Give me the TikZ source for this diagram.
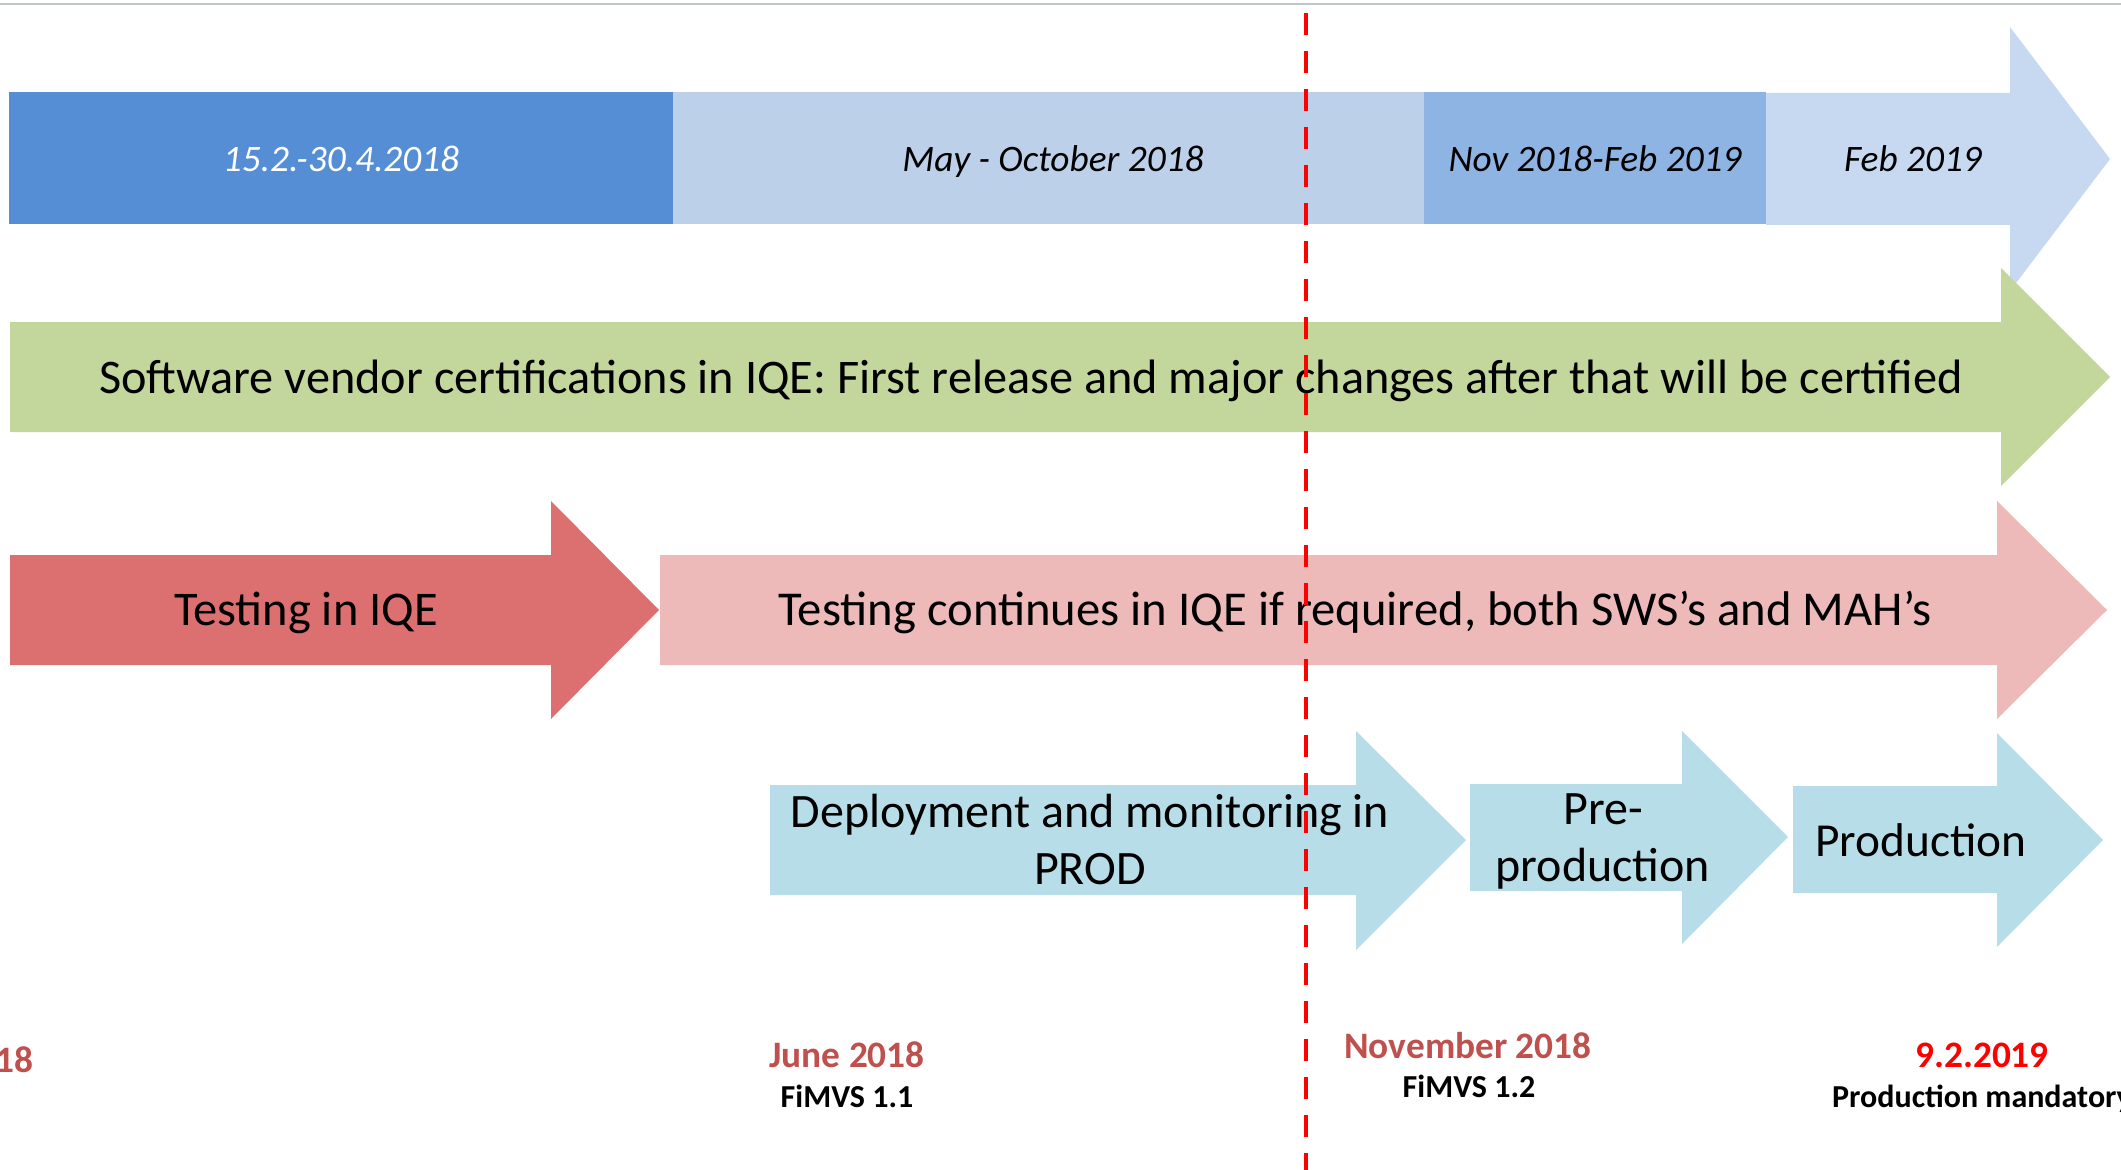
\documentclass[tikz,border=0pt]{standalone}
\usepackage{fontspec}
\setmainfont{Carlito}
\definecolor{barA}{HTML}{558ED5}
\definecolor{barB}{HTML}{BDD0E9}
\definecolor{barC}{HTML}{8EB4E3}
\definecolor{barD}{HTML}{C6D9F1}
\definecolor{greenA}{HTML}{C3D69B}
\definecolor{redA}{HTML}{DC7070}
\definecolor{pinkA}{HTML}{EDB9B9}
\definecolor{cyanA}{HTML}{B7DEE8}
\definecolor{dateRed}{HTML}{C0504D}
\definecolor{grayline}{HTML}{C0C4CC}
\tikzset{
  datetxt/.style={anchor=base, inner sep=0pt, font=\fontsize{28}{34}\selectfont\itshape},
  bigtxt/.style={anchor=base, inner sep=0pt, font=\fontsize{36.3}{43}\selectfont},
  bigtwo/.style={anchor=base, inner sep=0pt, align=center, font=\fontsize{36}{42.5}\selectfont},
  milestone/.style={anchor=base, inner sep=0pt, font=\fontsize{28}{34}\selectfont\bfseries, text=dateRed},
  version/.style={anchor=base, inner sep=0pt, font=\fontsize{24}{29}\selectfont\bfseries},
}
\begin{document}
\begin{tikzpicture}[x=0.75pt,y=-0.75pt]
\clip (0,0) rectangle (2121,1170);
\useasboundingbox (0,0) rectangle (2121,1170);
\fill[white] (0,0) rectangle (2121,1170);
% top gray rule
\coordinate (gl) at (0,4);
\coordinate (gr) at (2121,4);
\draw[grayline, line width=1.2pt] (gl) -- (gr);
% top timeline
\fill[barD] (1766,93) -- (2010,93) -- (2010,27) -- (2110,159) -- (2010,291) -- (2010,225) -- (1766,225) -- cycle;
\fill[barA] (9,92) rectangle (673,224);
\fill[barB] (673,92) rectangle (1424,224);
\fill[barC] (1424,92) rectangle (1766,224);
\node[datetxt, text=white] (p1) at (341,172) {15.2.-30.4.2018};
\node[datetxt] (p2) at (1053,172) {May - October 2018};
\node[datetxt] (p3) at (1595,172) {Nov 2018-Feb 2019};
\node[datetxt] (p4) at (1913,172) {Feb 2019};
% green arrow
\fill[greenA] (10,322) -- (2001,322) -- (2001,268) -- (2110,377) -- (2001,486) -- (2001,432) -- (10,432) -- cycle;
\node[anchor=base, inner sep=0pt, font=\fontsize{36.2}{43}\selectfont] (cert) at (1031,393) {Software vendor certifications in IQE: First release and major changes after that will be certified};
% testing arrows
\fill[redA] (10,555) -- (551,555) -- (551,501) -- (659,610) -- (551,719) -- (551,665) -- (10,665) -- cycle;
\fill[pinkA] (660,555) -- (1997,555) -- (1997,501) -- (2107,610) -- (1997,719) -- (1997,665) -- (660,665) -- cycle;
\node[bigtxt] (test) at (306,625) {Testing in IQE};
\node[bigtxt, font=\fontsize{36.5}{43}\selectfont] (cont) at (1355,625) {Testing continues in IQE if required, both SWS’s and MAH’s};
% deployment arrows
\fill[cyanA] (770,785) -- (1356,785) -- (1356,731) -- (1466,840) -- (1356,950) -- (1356,895) -- (770,895) -- cycle;
\fill[cyanA] (1470,784) -- (1682,784) -- (1682,731) -- (1788,837) -- (1682,944) -- (1682,891) -- (1470,891) -- cycle;
\fill[cyanA] (1793,786) -- (1997,786) -- (1997,733) -- (2103,840) -- (1997,947) -- (1997,893) -- (1793,893) -- cycle;
\node[bigtwo] (dep) at (1090,884) {Deployment and monitoring in\\PROD};
\node[bigtwo] (pre) at (1603,881) {Pre-\\production};
\node[bigtxt, font=\fontsize{35.5}{43}\selectfont] (prod) at (1921,856) {Production};
% milestones
\node[milestone, anchor=base east] (m0) at (34,1072) {18};
\node[milestone] (m1) at (847,1067) {June 2018};
\node[version] (v1) at (847,1107) {FiMVS 1.1};
\node[milestone] (m2) at (1468,1058) {November 2018};
\node[version] (v2) at (1469,1097) {FiMVS 1.2};
\node[milestone, text=red] (m3) at (1982,1067) {9.2.2019};
\node[version] (v3) at (1982,1107) {Production mandatory};
% today line
\coordinate (dtop) at (1306,13);
\coordinate (dbot) at (1306,1170);
\draw[red, line width=3pt, dash pattern=on 16.5pt off 12pt] (dtop) -- (dbot);
\end{tikzpicture}
\end{document}
